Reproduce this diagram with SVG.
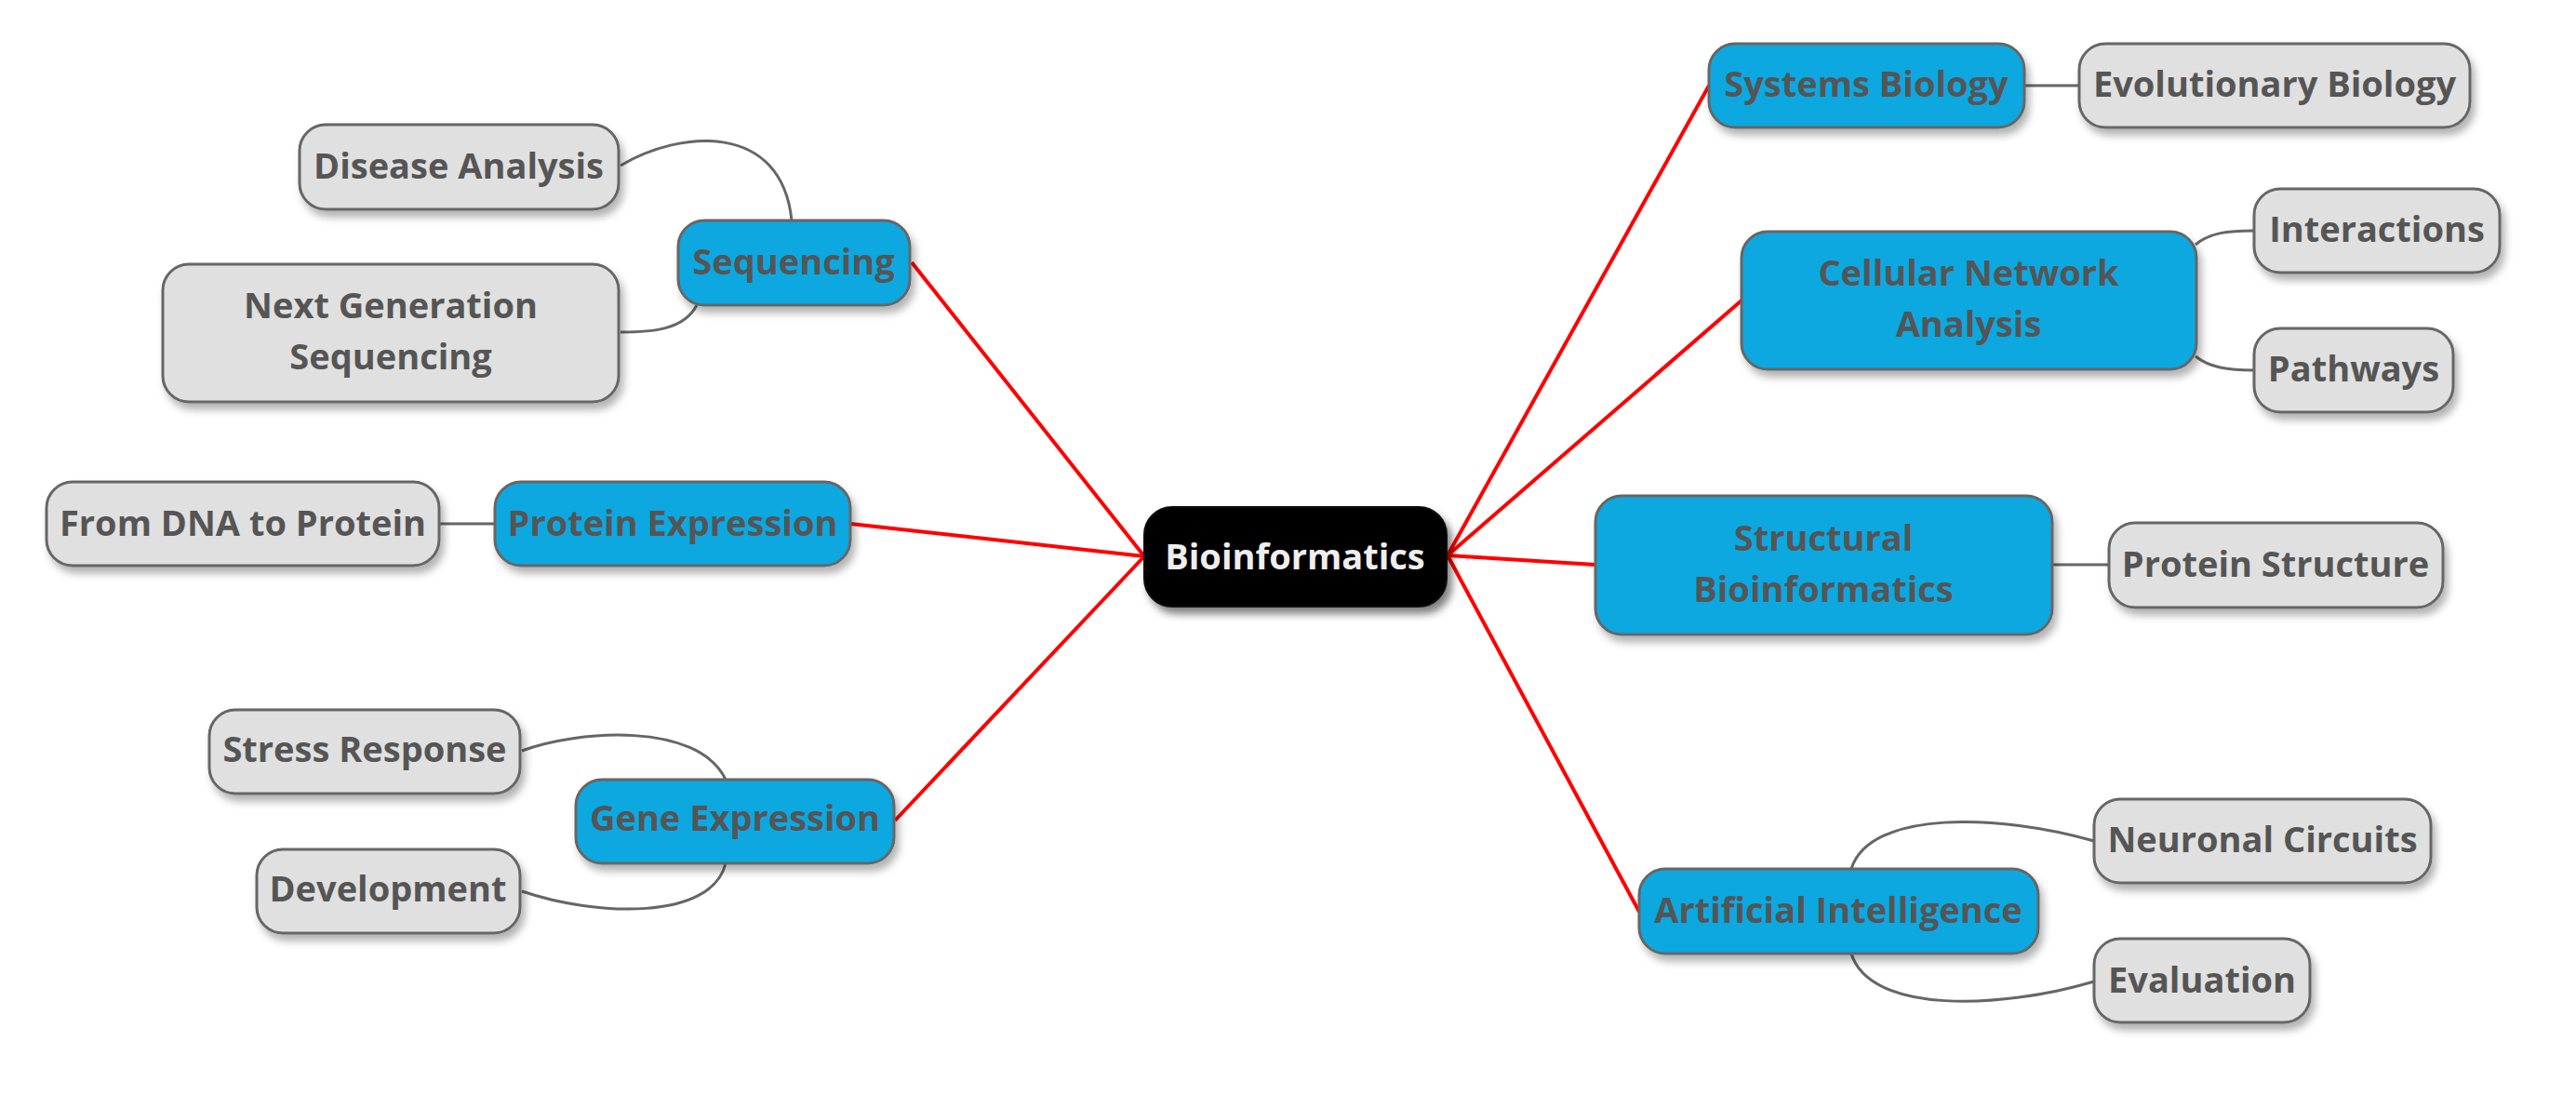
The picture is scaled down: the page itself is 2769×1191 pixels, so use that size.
<svg xmlns="http://www.w3.org/2000/svg" width="2769" height="1191" viewBox="0 0 2769 1191">
<style>
.main{fill:#10a8e0;stroke:#666;stroke-width:3;filter:url(#sh)}
.sub{fill:#e0e0e0;stroke:#666;stroke-width:3;filter:url(#sh)}
.root{fill:#000;stroke:#111;stroke-width:2;filter:url(#sh2)}
text{font-family:"Open Sans","Noto Sans","Liberation Sans",sans-serif;font-weight:bold;font-size:38px;fill:#555;text-anchor:middle}
text.rt{fill:#eee}
.red{stroke:#f00;stroke-width:4;fill:none}
.gry{stroke:#666;stroke-width:3;fill:none}
</style>
<defs>
<filter id="sh" x="-10%" y="-20%" width="130%" height="160%"><feDropShadow dx="4" dy="7" stdDeviation="4" flood-color="#000" flood-opacity="0.3"/></filter>
<filter id="sh2" x="-10%" y="-20%" width="130%" height="160%"><feDropShadow dx="5" dy="7" stdDeviation="4" flood-color="#000" flood-opacity="0.5"/></filter>
</defs>
<rect width="2769" height="1191" fill="#fff"/>
<g id="connectors">
<path class="red" d="M1230 598 L980 282"/>
<path class="red" d="M1230 598 L914 563"/>
<path class="red" d="M1230 598 L962 882"/>
<path class="red" d="M1556 597 L1837 92"/>
<path class="red" d="M1556 597 L1872 323"/>
<path class="red" d="M1556 597 L1715 607"/>
<path class="red" d="M1556 597 L1762 980"/>
<path class="gry" d="M667 178 C730 140 840 130 851 237"/>
<path class="gry" d="M749 328 C735 355 700 357 667 357"/>
<path class="gry" d="M472 563 L532 563"/>
<path class="gry" d="M561 807 C620 785 750 775 780 838"/>
<path class="gry" d="M780 928 C765 990 640 985 561 958"/>
<path class="gry" d="M2176 92 L2235 92"/>
<path class="gry" d="M2360 263 C2375 250 2395 248 2423 248"/>
<path class="gry" d="M2360 383 C2375 395 2395 398 2423 398"/>
<path class="gry" d="M2206 607 L2267 607"/>
<path class="gry" d="M1990 934 C2010 870 2150 875 2251 904"/>
<path class="gry" d="M1990 1025 C2010 1090 2150 1085 2251 1055"/>
</g>
<g id="n-root"><rect class="root" x="1230" y="545" width="325" height="107" rx="30"/><text class="rt" x="1392" y="612">Bioinformatics</text></g>
<g id="n-sequencing"><rect class="main" x="729" y="237" width="249" height="91" rx="28"/><text x="853" y="295">Sequencing</text></g>
<g id="n-disease"><rect class="sub" x="322" y="134" width="343" height="91" rx="28"/><text x="493" y="192">Disease Analysis</text></g>
<g id="n-ngs"><rect class="sub" x="175" y="284" width="490" height="148" rx="28"/><text x="420" y="342">Next Generation</text><text x="420" y="397">Sequencing</text></g>
<g id="n-protexp"><rect class="main" x="532" y="518" width="382" height="90" rx="28"/><text x="723" y="576">Protein Expression</text></g>
<g id="n-dna"><rect class="sub" x="50" y="518" width="422" height="90" rx="28"/><text x="261" y="576">From DNA to Protein</text></g>
<g id="n-geneexp"><rect class="main" x="619" y="838" width="342" height="90" rx="28"/><text x="790" y="893">Gene Expression</text></g>
<g id="n-stress"><rect class="sub" x="225" y="763" width="334" height="90" rx="28"/><text x="392" y="819">Stress Response</text></g>
<g id="n-dev"><rect class="sub" x="276" y="913" width="283" height="90" rx="28"/><text x="417" y="969">Development</text></g>
<g id="n-sysbio"><rect class="main" x="1837" y="47" width="339" height="90" rx="28"/><text x="2006" y="104">Systems Biology</text></g>
<g id="n-evobio"><rect class="sub" x="2235" y="47" width="420" height="90" rx="28"/><text x="2445" y="104">Evolutionary Biology</text></g>
<g id="n-cellular"><rect class="main" x="1872" y="249" width="489" height="148" rx="28"/><text x="2116" y="307">Cellular Network</text><text x="2116" y="362">Analysis</text></g>
<g id="n-interactions"><rect class="sub" x="2423" y="203" width="264" height="90" rx="28"/><text x="2555" y="260">Interactions</text></g>
<g id="n-pathways"><rect class="sub" x="2423" y="353" width="214" height="90" rx="28"/><text x="2530" y="410">Pathways</text></g>
<g id="n-structural"><rect class="main" x="1715" y="533" width="491" height="149" rx="28"/><text x="1960" y="592">Structural</text><text x="1960" y="647">Bioinformatics</text></g>
<g id="n-protstruct"><rect class="sub" x="2267" y="562" width="359" height="91" rx="28"/><text x="2446" y="620">Protein Structure</text></g>
<g id="n-ai"><rect class="main" x="1762" y="934" width="429" height="91" rx="28"/><text x="1976" y="992">Artificial Intelligence</text></g>
<g id="n-neuronal"><rect class="sub" x="2251" y="859" width="362" height="90" rx="28"/><text x="2432" y="916">Neuronal Circuits</text></g>
<g id="n-evaluation"><rect class="sub" x="2251" y="1009" width="232" height="90" rx="28"/><text x="2367" y="1067">Evaluation</text></g>
</svg>
